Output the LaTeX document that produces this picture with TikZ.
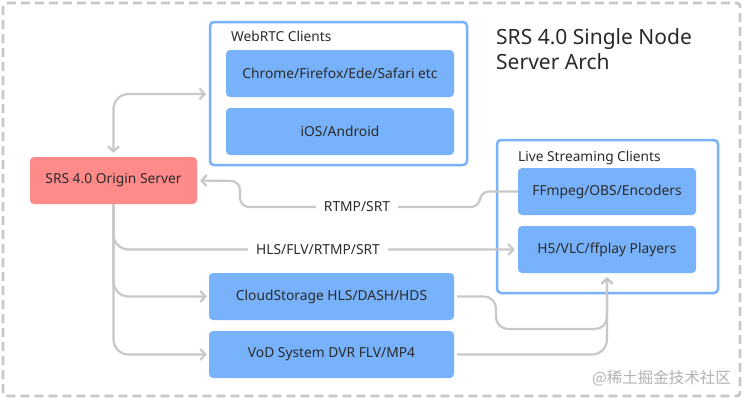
\documentclass[tikz,border=0pt]{standalone}
\usepackage{fontspec}
\setmainfont{Noto Sans}
\newfontfamily\cjk{Noto Sans CJK SC}
\usetikzlibrary{arrows.meta}
\definecolor{boxblue}{HTML}{78B2FB}
\definecolor{edgeblue}{HTML}{78B2FB}
\definecolor{origred}{HTML}{FF8A8A}
\definecolor{conngray}{HTML}{C8C8C8}
\definecolor{txt}{HTML}{2A2A2A}
\begin{document}
\begin{tikzpicture}[x=1pt,y=-1pt,
  blk/.style={fill=boxblue,rounded corners=4pt,minimum height=47pt,inner sep=0pt,text=txt,font=\fontsize{13.8}{15}\selectfont},
  cont/.style={draw=edgeblue,line width=2.5pt,rounded corners=4pt,fill=white},
  ttl/.style={anchor=west,text=txt,font=\fontsize{13.7}{15}\selectfont,inner sep=0pt},
  conn/.style={draw=conngray,line width=2.2pt,rounded corners=12pt},
  tip/.style={-{Straight Barb[length=5pt,width=11pt]}},
  lbl/.style={fill=white,text=txt,font=\fontsize{13.8}{15}\selectfont,inner xsep=8pt,inner ysep=2pt}
]
\useasboundingbox (0,0) rectangle (744,400);
\fill[white] (0,0) rectangle (744,400);
\draw[conngray,line width=2.8pt,dash pattern=on 9pt off 5pt,rounded corners=3pt] (3,3) rectangle (740,396);

% containers
\draw[cont] (210,22) rectangle (467,165);
\node[ttl] (wt) at (231,36) {WebRTC Clients};
\draw[cont] (497,140) rectangle (718,293);
\node[ttl] (lt) at (518,158) {Live Streaming Clients};
\coordinate (wleft) at (210,94);

% title
\node[anchor=north west,align=left,text=txt,font=\fontsize{21}{25.5}\selectfont,inner sep=0pt] (title) at (496,28) {SRS 4.0 Single Node\\Server Arch};

% blocks
\node[blk,minimum width=228pt] (chrome) at (340,73.5) {Chrome/Firefox/Ede/Safari etc};
\node[blk,minimum width=228pt] (ios) at (340,131.5) {iOS/Android};
\node[blk,minimum width=167pt,fill=origred] (origin) at (113.5,180.5) {SRS 4.0 Origin Server};
\node[blk,minimum width=178pt] (ffmpeg) at (607,191.5) {FFmpeg/OBS/Encoders};
\node[blk,minimum width=178pt] (h5) at (607,249.5) {H5/VLC/ffplay Players};
\node[blk,minimum width=245pt] (cloud) at (331.5,296.5) {CloudStorage HLS/DASH/HDS};
\node[blk,minimum width=245pt] (vod) at (331.5,354.5) {VoD System DVR FLV/MP4};

% connectors
\draw[conn,{Straight Barb[length=5pt,width=11pt]}-{Straight Barb[length=5pt,width=11pt]},rounded corners=15pt,shorten <=4pt,shorten >=4pt] (origin.north) |- (wleft);
\draw[conn,tip,rounded corners=9pt,shorten >=3pt] (ffmpeg.west) -- (480,191.5) -- (480,207) -- (240,207) -- (240,181) -- (origin.east);
\node[lbl] (l1) at (357,207) {RTMP/SRT};
\draw[conn,tip,rounded corners=15pt,shorten >=3pt] (origin.south) |- (h5.west);
\node[lbl] (l2) at (318,249.5) {HLS/FLV/RTMP/SRT};
\draw[conn,tip,rounded corners=15pt,shorten >=2pt] (origin.south) |- (cloud.west);
\draw[conn,tip,rounded corners=15pt,shorten >=2pt] (origin.south) |- (vod.west);
\draw[conn,tip,rounded corners=12pt,shorten <=3pt,shorten >=4pt] (cloud.east) -- (496,296.5) -- (496,329) -- (607,329) -- (h5.south);
\draw[conn,tip,rounded corners=15pt,shorten <=3pt,shorten >=4pt] (vod.east) -| (h5.south);

% watermark
\node[anchor=east,text=black!30,font=\cjk\fontsize{15.5}{16}\selectfont,inner sep=0pt] (wm) at (731,378) {@稀土掘金技术社区};
\end{tikzpicture}
\end{document}
